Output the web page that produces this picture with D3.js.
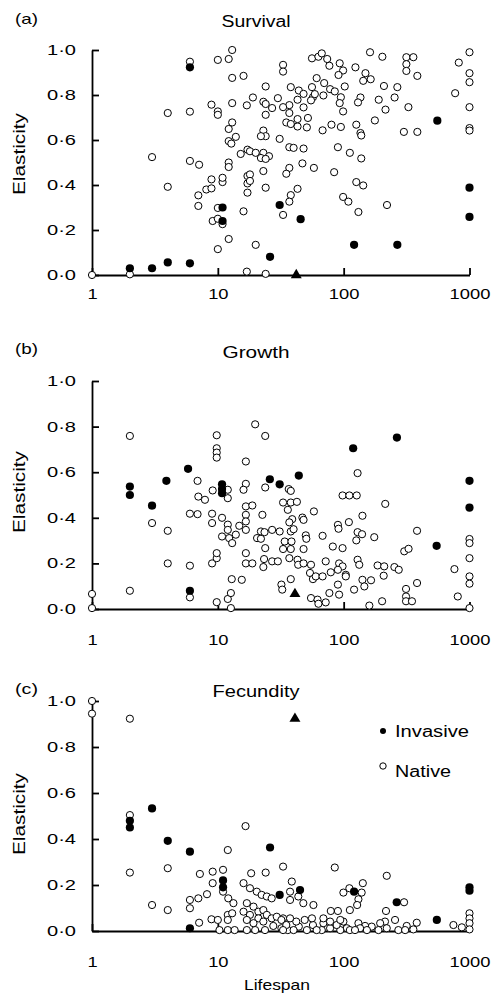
<!DOCTYPE html>
<html>
<head>
<meta charset="utf-8">
<script src="https://cdn.jsdelivr.net/npm/d3@7"></script>
<style>
  body { margin: 0; background: #fff; }
  text { font-family: "Liberation Sans", Arial, sans-serif; fill: #000; }
</style>
</head>
<body>
<svg width="493" height="1002"></svg>
<script>
// tick values and labels
const yTicks = [0, 0.2, 0.4, 0.6, 0.8, 1.0];
const xTicks = [1, 10, 100, 1000];
const panelTags = ["(a)", "(b)", "(c)"];
const panelTitles = ["Survival", "Growth", "Fecundity"];
const legendLabels = ["Invasive", "Native"];

// [lifespan, elasticity]
const survivalInvasive = [[2,0.03],[3,0.03],[4,0.056],[6,0.052],[6,0.923],[10.9,0.30],[10.9,0.24],[31,0.311],
  [45.5,0.248],[26,0.081],[121,0.134],[267,0.134],[555,0.686],[1000,0.388],[1000,0.258]];
const survivalNative = [[1,0],[2,0.003],[6,0.948],[6,0.726],[4,0.72],[3,0.524],[4,0.392],[6,0.507],[7.1,0.49],
  [7,0.354],[7,0.307],[8.1,0.38],[8.9,0.425],[8.9,0.385],[9.1,0.24],[8.9,0.757],[10,0.727],[10,0.712],[10,0.956],
  [12.2,0.96],[13,1.0],[13,0.876],[16,0.885],[13,0.764],[17,0.754],[13,0.678],[12.2,0.649],[13.9,0.614],[12.2,0.595],
  [12.8,0.584],[12.2,0.50],[12.2,0.48],[10.9,0.413],[10.9,0.432],[15.2,0.538],[17.2,0.557],[17.2,0.44],[17.2,0.407],
  [17.2,0.366],[16,0.283],[10,0.298],[10.9,0.226],[10,0.25],[12.2,0.16],[10,0.115],[17,0.015],
  [1000,0.99],[822,0.944],[1000,0.897],[1000,0.857],[769,0.808],[1000,0.746],[1000,0.653],[1000,0.642],
  [301,0.636],[385,0.636],[327,0.746],[315,0.968],[358,0.968],[315,0.937],[315,0.907],[385,0.885],
  [162,0.99],[203,0.97],[124,0.923],[149,0.897],[164,0.87],[143,0.863],
  [209,0.84],[267,0.835],[254,0.789],[190,0.779],[215,0.735],[177,0.687],
  [136,0.789],[130,0.767],[102,0.838],[93,0.941],[99,0.909],[91,0.889],[95,0.79],[93,0.764],[99,0.727],
  [56,0.963],[63,0.97],[67,0.985],[74,0.96],[77,0.93],
  [61,0.875],[70,0.853],[78,0.826],[85,0.816],[56,0.835],[57,0.79],[59,0.804],[69,0.798],
  [38,0.835],[44,0.82],[48,0.805],[43,0.779],[37,0.755],[48,0.745],[55,0.776],
  [33,0.934],[33,0.904],[24,0.838],[24,0.712],[19,0.789],
  [23,0.77],[24,0.76],[27,0.742],[30,0.786],[33,0.746],[37,0.72],
  [35,0.678],[38,0.671],[43,0.66],[51,0.656],[43,0.693],[52,0.698],
  [68,0.643],[80,0.668],[95,0.658],[126,0.668],[136,0.631],[138,0.62],
  [23,0.642],[24,0.617],[22,0.617],[31,0.605],[37,0.568],[40,0.565],[48,0.562],
  [90,0.568],[112,0.543],[138,0.518],
  [18,0.55],[20,0.543],[23,0.543],[25.5,0.528],[22,0.52],[24,0.516],
  [47,0.496],[58,0.476],[37,0.476],[35,0.45],[23,0.462],[18,0.447],[18,0.418],[24,0.388],
  [84,0.457],[43,0.383],[38,0.355],[37,0.326],[33,0.267],[99,0.347],[109,0.326],
  [126,0.413],[143,0.398],[131,0.28],[221,0.311],[20,0.134],[24,0.005]];
const survivalHighlight = [[42,0]];

const growthInvasive = [[2,0.537],[2,0.5],[3,0.453],[3.9,0.562],[5.8,0.615],[6,0.08],[10.8,0.547],[10.8,0.526],
  [10.8,0.508],[25.9,0.569],[31,0.547],[44,0.585],[119,0.705],[265,0.752],[548,0.277],[1000,0.562],[1000,0.445]];
const growthNative = [[1,0.066],[1,0.004],[2,0.759],[2,0.08],[3,0.377],[4,0.343],[4,0.2],[6,0.418],[6.9,0.416],
  [6,0.19],[6,0.051],[6.9,0.562],[7,0.493],[7.9,0.479],[9.1,0.52],[9,0.418],[9,0.377],[9,0.2],[9.8,0.762],
  [9.8,0.705],[9.8,0.686],[9.8,0.664],[12,0.523],[12,0.486],[9.8,0.03],[12,0.044],[12.7,0.07],[12.7,0.004],
  [10.8,0.4],[12,0.37],[10.8,0.318],[12,0.347],[12.3,0.311],[13,0.289],[13.9,0.326],[14.8,0.365],[9.8,0.223],
  [9.8,0.245],[12.9,0.131],[15.5,0.128],[16.7,0.647],[16.7,0.549],[16,0.523],[16.7,0.45],[16.7,0.413],
  [16.7,0.384],[16.7,0.347],[16.7,0.245],[16.7,0.2],
  [19.8,0.81],[23.8,0.759],[23.8,0.533],[36.6,0.526],[38,0.518],[18.8,0.454],[129,0.596],[98,0.498],[111,0.498],
  [127,0.498],[214,0.461],[33,0.467],[38,0.467],[42.5,0.47],[36,0.435],[58,0.428],[22.6,0.413],
  [47,0.401],[48,0.391],[39,0.394],[37,0.38],[38,0.34],[40,0.35],
  [27,0.347],[22,0.34],[20.5,0.311],[22,0.308],[23.5,0.337],[31,0.34],
  [50,0.323],[50.5,0.308],[68,0.321],[90,0.369],[91,0.352],[110,0.381],[141,0.409],[129,0.337],[140,0.328],
  [126,0.301],[175,0.315],[383,0.343],
  [1000,0.307],[1000,0.289],[1000,0.223],[759,0.175],[1000,0.143],[1000,0.111],[807,0.055],[1000,0.004],
  [18.8,0.2],[23.3,0.219],[23,0.184],[27,0.209],[30,0.209],[23.8,0.267],
  [33,0.263],[38,0.263],[34,0.296],[38.5,0.296],[48,0.263],[43,0.216],[43.5,0.194],[48,0.2],[55,0.194],[37,0.223],
  [54,0.158],[57,0.131],[60,0.143],[68,0.143],
  [72,0.209],[79,0.161],[82,0.274],[92,0.2],[98,0.187],[90,0.172],[104,0.15],[104,0.143],[98,0.267],
  [129,0.216],[133,0.194],[186,0.191],[210,0.187],[208,0.146],[253,0.184],[274,0.172],[303,0.253],[328,0.264],
  [383,0.114],[141,0.128],[146,0.099],[165,0.126],[121,0.085],[32,0.107],[32.5,0.085],[38,0.131],
  [55,0.048],[62,0.041],[63,0.023],[72,0.029],[77,0.07],[90,0.107],[92,0.063],[160,0.015],[202,0.034],
  [313,0.088],[313,0.055],[313,0.034],[349,0.034]];
const growthHighlight = [[41,0.066]];

const fecundityInvasive = [[2,0.479],[2,0.45],[3,0.533],[4,0.392],[6,0.345],[6,0.012],[11,0.22],[11,0.19],
  [26,0.363],[31,0.157],[45,0.178],[121,0.171],[264,0.125],[550,0.048],[1000,0.19],[1000,0.175]];
const fecundityNative = [[1,1.0],[1,0.945],[2,0.923],[2,0.504],[12,0.352],[16.6,0.456],
  [2,0.254],[4,0.273],[3,0.113],[4,0.091],[7.2,0.248],[9.1,0.258],[11,0.266],[9.1,0.208],[6,0.135],[6,0.099],
  [7,0.142],[8.2,0.16],[7.1,0.036],[8.9,0.051],[10.3,0.004],[10,0.048],[11,0.171],[12.1,0.142],[13.3,0.121],
  [12,0.07],[12,0.048],[12,0.004],[13,0.077],[13.6,0.004],[16,0.208],[18,0.186],[20.4,0.171],[22.3,0.157],
  [24.5,0.15],[26.8,0.142],[18.4,0.251],[24,0.254],[33,0.28],[17,0.121],[19.2,0.106],[16,0.084],[18,0.07],
  [21,0.084],[23,0.091],[24.5,0.07],[26.8,0.055],[21,0.055],[17,0.048],[19.2,0.034],[23,0.041],[29.4,0.062],
  [33,0.055],[17,0.004],[19.8,0.004],[23.7,0.004],[27.6,0.022],[32,0.012],[36,0.004],[32,0.048],
  [37.5,0.171],[37.5,0.135],[43.6,0.15],[47.8,0.121],[57.5,0.113],[99.5,0.167],[111,0.186],[142,0.208],
  [139,0.167],[131,0.138],[128,0.113],[112,0.091],[302,0.125],[217,0.087],[1000,0.077],[1000,0.055],
  [1000,0.034],[1000,0.007],[869,0.016],[745,0.026],[256,0.048],[272,0.004],[317,0.022],[358,0.007],
  [381,0.036],[308,0.004],[213,0.041],[195,0.034],[167,0.019],[189,0.004],[220,0.012],[148,0.022],[131,0.034],
  [135,0.012],[153,0.004],[106,0.012],[94,0.004],[99.5,0.041],[88,0.026],[78,0.012],[69,0.034],[67,0.004],
  [57,0.026],[56,0.055],[49,0.048],[51,0.004],[44,0.019],[42,0.041],[37.5,0.055],[35,0.026],[33,0.004],
  [40,0.004],[61,0.004],[78,0.041],[69,0.055],[94,0.048],[112,0.004],[123,0.004],[79,0.087],[90,0.087],
  [85,0.276],[220,0.24],[38.7,0.215]];
const fecundityHighlight = [[41,0.923]];

const invasive = [survivalInvasive, growthInvasive, fecundityInvasive];
const native = [survivalNative, growthNative, fecundityNative];
const highlight = [survivalHighlight, growthHighlight, fecundityHighlight];

// layout per panel
const tops = [50, 381, 701];
const bottoms = [275, 609, 931];
const tagY = [24, 354, 694];
const titleY = [27, 358, 697];
const titleW = [69, 67, 87];
const labelY = [154, 492, 814];
const xPad = [13.5, 25, 25];
const left = 92, right = 469.5;

const svg = d3.select('svg');

function label(g, x, y, s, size, w, anchor) {
  return g.append('text')
    .attr('x', x).attr('y', y)
    .attr('font-size', size)
    .attr('text-anchor', anchor || 'start')
    .attr('textLength', w)
    .attr('lengthAdjust', 'spacingAndGlyphs')
    .text(s);
}

const fmt = d => d3.format('.1f')(d).replace('.', '\u00b7');

for (let i = 0; i < 3; i++) {
  const x = d3.scaleLog().domain([1, 1000]).range([left, right]);
  const y = d3.scaleLinear().domain([0, 1]).range([bottoms[i], tops[i]]);
  const g = svg.append('g');

  const ya = g.append('g')
    .attr('transform', `translate(${left},0)`)
    .call(d3.axisLeft(y).tickValues(yTicks).tickFormat(fmt).tickSizeInner(-7).tickSizeOuter(0).tickPadding(16));
  ya.selectAll('text').attr('font-size', 14).attr('font-family', null)
    .attr('textLength', 29).attr('lengthAdjust', 'spacingAndGlyphs');

  const xa = g.append('g')
    .attr('transform', `translate(0,${bottoms[i]})`)
    .call(d3.axisBottom(x).tickValues(xTicks).tickFormat(d3.format('d')).tickSizeInner(-7).tickSizeOuter(0).tickPadding(xPad[i]));
  xa.selectAll('text').attr('font-size', 15).attr('font-family', null)
    .attr('textLength', d => String(d).length * 10.2).attr('lengthAdjust', 'spacingAndGlyphs');

  g.selectAll('.domain, .tick line').attr('stroke', '#000').attr('stroke-width', 1.8);

  label(g, 15, tagY[i], panelTags[i], 15, 23);
  label(g, 256, titleY[i], panelTitles[i], 16, titleW[i], 'middle');
  g.append('text')
    .attr('transform', `translate(25,${labelY[i]}) rotate(-90)`)
    .attr('font-size', 16).attr('text-anchor', 'middle')
    .attr('textLength', 82).attr('lengthAdjust', 'spacingAndGlyphs')
    .text('Elasticity');

  g.append('g').selectAll('circle')
    .data(native[i]).enter().append('circle')
    .attr('cx', d => x(d[0])).attr('cy', d => y(d[1]))
    .attr('r', 3.6).attr('fill', '#fff').attr('stroke', '#000').attr('stroke-width', 1);

  g.append('g').selectAll('circle')
    .data(invasive[i]).enter().append('circle')
    .attr('cx', d => x(d[0])).attr('cy', d => y(d[1]))
    .attr('r', 4.1).attr('fill', '#000');

  g.append('g').selectAll('path')
    .data(highlight[i]).enter().append('path')
    .attr('transform', d => `translate(${x(d[0])},${y(d[1])})`)
    .attr('d', d3.symbol(d3.symbolTriangle, 52))
    .attr('fill', '#000');
}

// x label
label(svg, 277, 990, 'Lifespan', 15, 66, 'middle');

// legend in panel (c)
svg.append('circle').attr('cx', 383).attr('cy', 731).attr('r', 3).attr('fill', '#000');
label(svg, 395, 737, legendLabels[0], 16, 74);
svg.append('circle').attr('cx', 383).attr('cy', 766).attr('r', 3.2)
  .attr('fill', '#fff').attr('stroke', '#000').attr('stroke-width', 1);
label(svg, 395, 777, legendLabels[1], 16, 56);
</script>
</body>
</html>
